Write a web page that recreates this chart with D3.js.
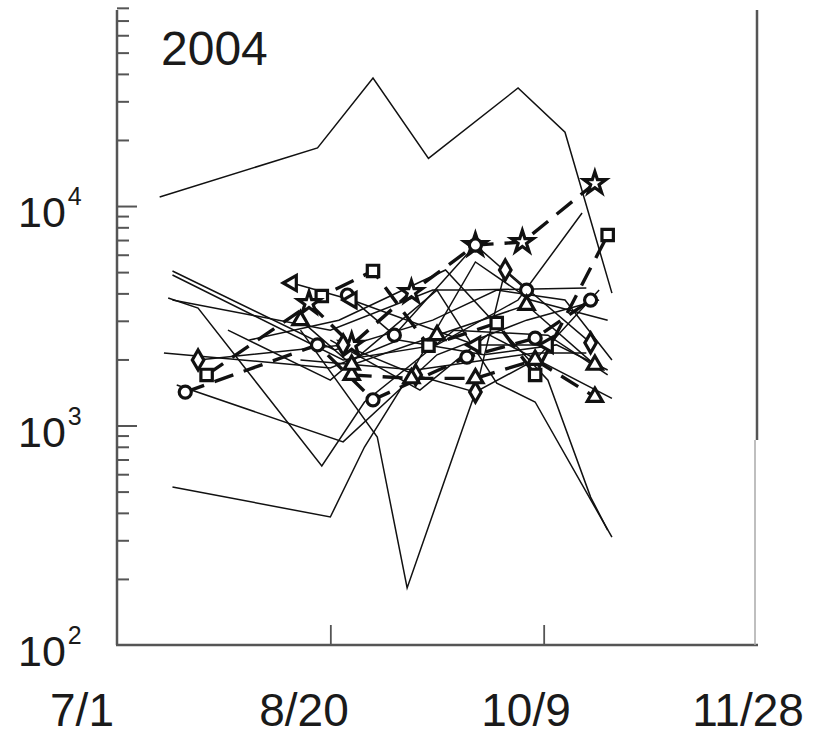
<!DOCTYPE html>
<html lang="en">
<head>
<meta charset="utf-8">
<title>2004</title>
<script src="https://cdn.jsdelivr.net/npm/d3@7"></script>
<style>
body { margin: 0; background: #fff; }
text { font-family: "Liberation Sans", Arial, sans-serif; fill: #1a1a1a; }
</style>
</head>
<body>
<svg id="chart" width="818" height="740"></svg>
<script>

// thin solid lines, [month-day, count]
var line1  = [["07-11",11000],["08-17",18400],["08-30",38300],["09-12",16500],["10-03",34500],["10-14",21700],["10-25",4010]];
var line2  = [["07-14",5060],["08-21",2210],["09-13",3020],["09-28",4140],["10-14",3730],["10-25",1990]];
var line3  = [["07-14",4850],["08-23",1990],["09-14",2330],["10-03",3730],["10-18",9290]];
var line4  = [["07-13",3810],["07-20",3430],["08-18",654],["08-28",1280],["09-18",2720],["10-10",2580],["10-24",1700]];
var line5  = [["07-12",2140],["08-20",1830],["09-05",2450],["09-25",2100],["10-12",2330],["10-24",1790]];
var line6  = [["07-15",1530],["08-23",842],["09-14",2100],["10-05",3020],["10-22",3730]];
var line7  = [["07-14",525],["08-20",383],["08-28",798],["09-09",1890],["09-23",5560],["10-06",3730],["10-24",3020]];
var line8  = [["08-13",2720],["08-31",887],["09-07",182],["09-23",1420],["10-07",1990],["10-22",4140]];
var line9  = [["07-27",2720],["08-20",1610],["09-14",4140],["09-28",1560],["10-07",1280],["10-25",310]];
var line10 = [["08-01",2450],["08-22",3020],["09-16",5110],["10-10",1610],["10-20",472],["10-24",334]];
var line11 = [["07-14",3730],["08-20",2720],["09-13",4140],["09-21",4140],["10-19",4230]];
var line12 = [["08-13",1990],["09-09",1790],["10-07",2140],["10-19",2140]];
var line13 = [["08-20",2450],["09-10",1450],["09-26",2600],["10-25",1330]];

// series drawn with markers
var squares  = [["07-22",1700],["08-18",3890],["08-30",5060],["09-12",2310],["09-28",2930],["10-07",1700],["10-24",7380]];
var stars    = [["08-15",3610],["08-25",2330],["09-08",4050],["09-23",6640],["10-04",6850],["10-21",12700]];
var circles1 = [["07-17",1420],["08-17",2330],["08-30",1310],["09-21",2050],["10-07",2500],["10-20",3730]];
var circles2 = [["08-24",3930],["09-04",2580],["09-23",6640],["10-05",4140]];
var diamonds = [["07-20",1990],["08-23",2330],["09-09",1700],["09-23",1420],["09-30",5110],["10-20",2380]];
var tris1    = [["08-25",1700],["09-08",1640],["09-23",1640],["10-07",1990],["10-21",1350]];
var tris2    = [["08-13",3020],["08-25",1890],["09-14",2580],["10-05",3540],["10-21",1890]];
var leftTris = [["08-11",4460],["08-25",3730],["09-23",2330],["10-10",2330]];

var xTicks = ["07-01","08-20","10-09","11-28"];
var xTickLabels = ["7/1","8/20","10/9","11/28"];
var yMajor = [100, 1000, 10000];
var yMajorExp = ["2","3","4"];
var yMinor = [200,300,400,500,600,700,800,900,2000,3000,4000,5000,6000,7000,8000,9000,20000,30000,40000,50000,60000,70000,80000];

var parse = d3.utcParse("%Y-%m-%d");
function day(s) { return parse("2004-" + s); }

var svg = d3.select("#chart");
var margin = {top: 10, left: 117, bottom: 95, right: 61};
var W = +svg.attr("width"), H = +svg.attr("height");

var x = d3.scaleUtc()
  .domain([day("07-01"), day("11-28")])
  .range([margin.left, W - margin.right]);

var y = d3.scaleLog()
  .domain([100, 78200])
  .range([H - margin.bottom, margin.top]);

// labels were set a little wider than the ticks
var xLab = d3.scaleUtc()
  .domain(x.domain())
  .range([82, 748]);

var thinLines = [line1,line2,line3,line4,line5,line6,line7,line8,line9,line10,line11,line12,line13];

var markerSeries = [
  {data: squares,  sym: d3.symbolSquare,   size: 130, dashed: true,  rot: 0},
  {data: stars,    sym: d3.symbolStar,     size: 150, dashed: true,  rot: 0},
  {data: circles1, sym: d3.symbolCircle,   size: 115, dashed: true,  rot: 0},
  {data: circles2, sym: d3.symbolCircle,   size: 115, dashed: false, rot: 0},
  {data: diamonds, sym: d3.symbolDiamond,  size: 115, dashed: false, rot: 0},
  {data: tris1,    sym: d3.symbolTriangle, size: 100, dashed: true,  rot: 0},
  {data: tris2,    sym: d3.symbolTriangle, size: 100, dashed: false, rot: 0},
  {data: leftTris, sym: d3.symbolTriangle, size: 100, dashed: false, rot: -90}
];

var line = d3.line()
  .x(d => x(day(d[0])))
  .y(d => y(d[1]));

svg.append("g").selectAll("path")
  .data(thinLines)
  .enter().append("path")
    .attr("d", line)
    .attr("fill", "none")
    .attr("stroke", "#111")
    .attr("stroke-width", 1.5);

svg.append("g").selectAll("path")
  .data(markerSeries)
  .enter().append("path")
    .attr("d", s => line(s.data))
    .attr("fill", "none")
    .attr("stroke", "#111")
    .attr("stroke-width", s => s.dashed ? 3.4 : 1.5)
    .attr("stroke-dasharray", s => s.dashed ? "20,11" : null);

markerSeries.forEach(function(s) {
  svg.append("g").selectAll("path")
    .data(s.data)
    .enter().append("path")
      .attr("d", d3.symbol().type(s.sym).size(s.size))
      .attr("transform", d => `translate(${x(day(d[0]))},${y(d[1])}) rotate(${s.rot})`)
      .attr("fill", "#fff")
      .attr("stroke", "#111")
      .attr("stroke-width", 3.2);
});

// axes frame
var axisColor = "#555";

svg.append("g")
  .attr("transform", `translate(${margin.left},0)`)
  .call(d3.axisRight(y).tickValues(yMinor).tickSize(12).tickSizeOuter(0).tickFormat(""))
  .call(g => g.select(".domain").remove())
  .call(g => g.selectAll("line").attr("stroke", axisColor).attr("stroke-width", 2));

svg.append("g")
  .attr("transform", `translate(${margin.left},0)`)
  .call(d3.axisRight(y).tickValues(yMajor.slice(1)).tickSize(20).tickSizeOuter(0).tickFormat(""))
  .call(g => g.select(".domain").remove())
  .call(g => g.selectAll("line").attr("stroke", axisColor).attr("stroke-width", 2));

svg.append("g")
  .attr("transform", `translate(0,${H - margin.bottom})`)
  .call(d3.axisTop(x).tickValues(xTicks.slice(1, 3).map(day)).tickSize(20).tickSizeOuter(0).tickFormat(""))
  .call(g => g.select(".domain").remove())
  .call(g => g.selectAll("line").attr("stroke", axisColor).attr("stroke-width", 1.8));

svg.append("line")
  .attr("x1", margin.left).attr("x2", margin.left)
  .attr("y1", margin.top).attr("y2", H - margin.bottom)
  .attr("stroke", axisColor).attr("stroke-width", 2.5);

svg.append("line")
  .attr("x1", margin.left - 1).attr("x2", W - margin.right + 1)
  .attr("y1", H - margin.bottom).attr("y2", H - margin.bottom)
  .attr("stroke", axisColor).attr("stroke-width", 2.5);

svg.append("line")
  .attr("x1", W - margin.right).attr("x2", W - margin.right)
  .attr("y1", margin.top).attr("y2", 440)
  .attr("stroke", axisColor).attr("stroke-width", 2.5);

svg.append("line")
  .attr("x1", W - margin.right - 2).attr("x2", W - margin.right - 2)
  .attr("y1", 440).attr("y2", H - margin.bottom)
  .attr("stroke", "#aaa").attr("stroke-width", 1.5);

// y labels 10^n
var yl = svg.append("g").selectAll("text")
  .data(yMajor)
  .enter().append("text")
    .attr("x", 18)
    .attr("y", d => y(d) + 21)
    .attr("font-size", "43px")
    .text("10");

yl.append("tspan")
  .attr("dx", 2)
  .attr("dy", -22)
  .attr("font-size", "25px")
  .text((d, i) => yMajorExp[i]);

// x labels
svg.append("g").selectAll("text")
  .data(xTicks)
  .enter().append("text")
    .attr("x", d => xLab(day(d)))
    .attr("y", 726)
    .attr("text-anchor", "middle")
    .attr("font-size", "46px")
    .text((d, i) => xTickLabels[i]);

svg.append("text")
  .attr("x", 161)
  .attr("y", 65)
  .attr("font-size", "48px")
  .text("2004");

</script>
</body>
</html>
